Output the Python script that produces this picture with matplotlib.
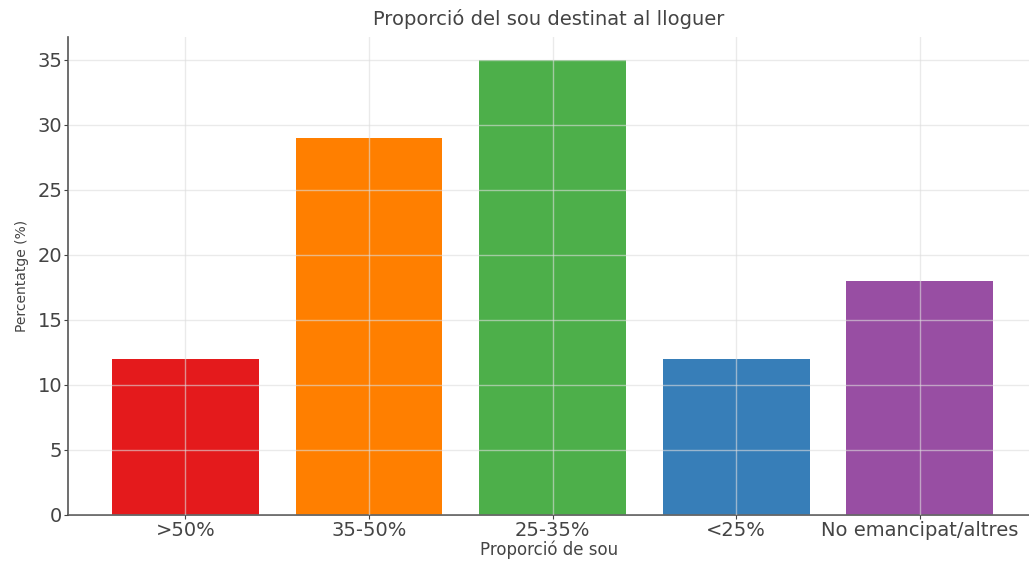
import matplotlib.pyplot as plt

categories = [">50%", "35-50%", "25-35%", "<25%", "No emancipat/altres"]
values = [12, 29, 35, 12, 18]
colors = ["#e41a1c", "#ff7f00", "#4daf4a", "#377eb8", "#984ea3"]

fig = plt.figure(figsize=(10.29, 5.65), dpi=100)
ax = fig.add_axes([0.066, 0.0885, 0.935, 0.846])

ax.bar(categories, values, color=colors, width=0.8, zorder=1)
ax.grid(True, color="#dddddd", linewidth=1, alpha=0.6, zorder=2)
ax.set_axisbelow(False)
ax.set_xlim(-0.64, 4.6)

ax.set_title("Proporció del sou destinat al lloguer", fontsize=14, color="#444444", pad=9)
ax.set_xlabel("Proporció de sou", fontsize=12, color="#444444", labelpad=1)
ax.set_ylabel("Percentatge (%)", fontsize=10, color="#444444", labelpad=6)
ax.tick_params(labelsize=14, colors="#444444", length=3, pad=1)

for side in ["top", "right"]:
    ax.spines[side].set_visible(False)
for side in ["left", "bottom"]:
    ax.spines[side].set_color("#555555")
    ax.spines[side].set_linewidth(1.2)

fig.savefig("out.png", dpi=100)
